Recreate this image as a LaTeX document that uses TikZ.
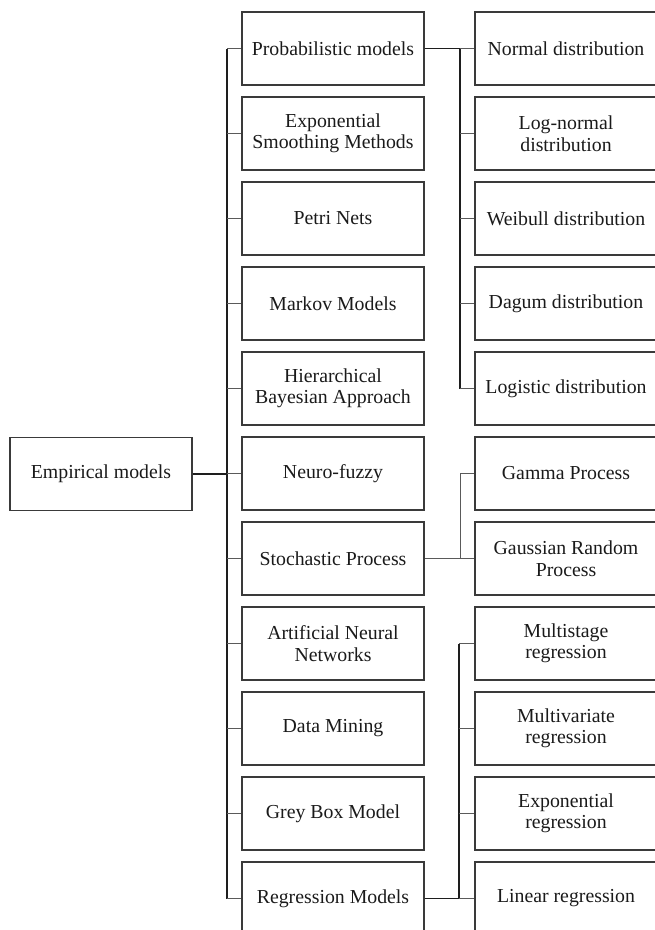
\documentclass[tikz,border=0pt]{standalone}
\usepackage{fontspec}
\setmainfont{Liberation Serif}
\usepackage{tikz}
\usetikzlibrary{calc}
\definecolor{rand}{HTML}{3A3A3A}
\definecolor{schrift}{HTML}{1A1A1A}
\definecolor{astgrau}{HTML}{5A5A5A}
\definecolor{stammgrau}{HTML}{1E1E1E}
\tikzset{
  box/.style={draw=rand,line width=1.1pt,minimum width=182pt,minimum height=73pt,
    inner sep=0pt,align=center,text=schrift,font=\fontsize{19.8}{21.5}\selectfont},
  stamm/.style={stammgrau,line width=1.6pt},
  ast/.style={astgrau,line width=1pt},
}

\begin{document}
\begin{tikzpicture}[x=1pt,y=-1pt]
  \useasboundingbox (0,0) rectangle (654,930);
  \node[box] (emp) at (101,474) {Empirical models};
  % middle column
  \node[box] (m1) at (333,48.5) {Probabilistic models};
  \node[box] (m2) at (333,133.5) {Exponential\\Smoothing Methods};
  \node[box] (m3) at (333,218.5) {Petri Nets};
  \node[box] (m4) at (333,303.5) {Markov Models};
  \node[box] (m5) at (333,388.5) {Hierarchical\\Bayesian Approach};
  \node[box] (m6) at (333,473.5) {Neuro-fuzzy};
  \node[box] (m7) at (333,558.5) {Stochastic Process};
  \node[box] (m8) at (333,643.5) {Artificial Neural\\Networks};
  \node[box] (m9) at (333,728.5) {Data Mining};
  \node[box] (m10) at (333,813.5) {Grey Box Model};
  \node[box] (m11) at (333,898.5) {Regression Models};
  % right column
  \node[box] (r1) at (566,48.5) {Normal distribution};
  \node[box] (r2) at (566,133.5) {Log-normal\\distribution};
  \node[box] (r3) at (566,218.5) {Weibull distribution};
  \node[box] (r4) at (566,303.5) {Dagum distribution};
  \node[box] (r5) at (566,388.5) {Logistic distribution};
  \node[box] (r6) at (566,473.5) {Gamma Process};
  \node[box] (r7) at (566,558.5) {Gaussian Random\\Process};
  \node[box] (r8) at (566,643.5) {Multistage\\regression};
  \node[box] (r9) at (566,728.5) {Multivariate\\regression};
  \node[box] (r10) at (566,813.5) {Exponential\\regression};
  \node[box] (r11) at (566,898.5) {Linear regression};
  % junctions
  \coordinate (jm) at (227,474);
  \coordinate (jp) at (460,48.5);
  \coordinate (js) at (460,558.5);
  \coordinate (jr) at (459,898.5);
  \draw[stamm] (emp.east) -- (jm);
  \draw[stamm] (jm |- m1) -- (jm |- m11);
  \foreach \n in {m1,m2,m3,m4,m5,m6,m7,m8,m9,m10,m11}
    \draw[ast] (jm |- \n) -- (\n.west);
  \draw[stamm] (m1.east) -- (jp) -- (jp |- r5);
  \foreach \n in {r1,r2,r3,r4,r5}
    \draw[ast] (jp |- \n) -- (\n.west);
  \draw[ast] (m7.east) -- (js) -- (js |- r6) -- (r6.west);
  \draw[ast] (js) -- (r7.west);
  \draw[stamm] (m11.east) -- (jr) -- (jr |- r8);
  \foreach \n in {r8,r9,r10,r11}
    \draw[ast] (jr |- \n) -- (\n.west);
\end{tikzpicture}
\end{document}
